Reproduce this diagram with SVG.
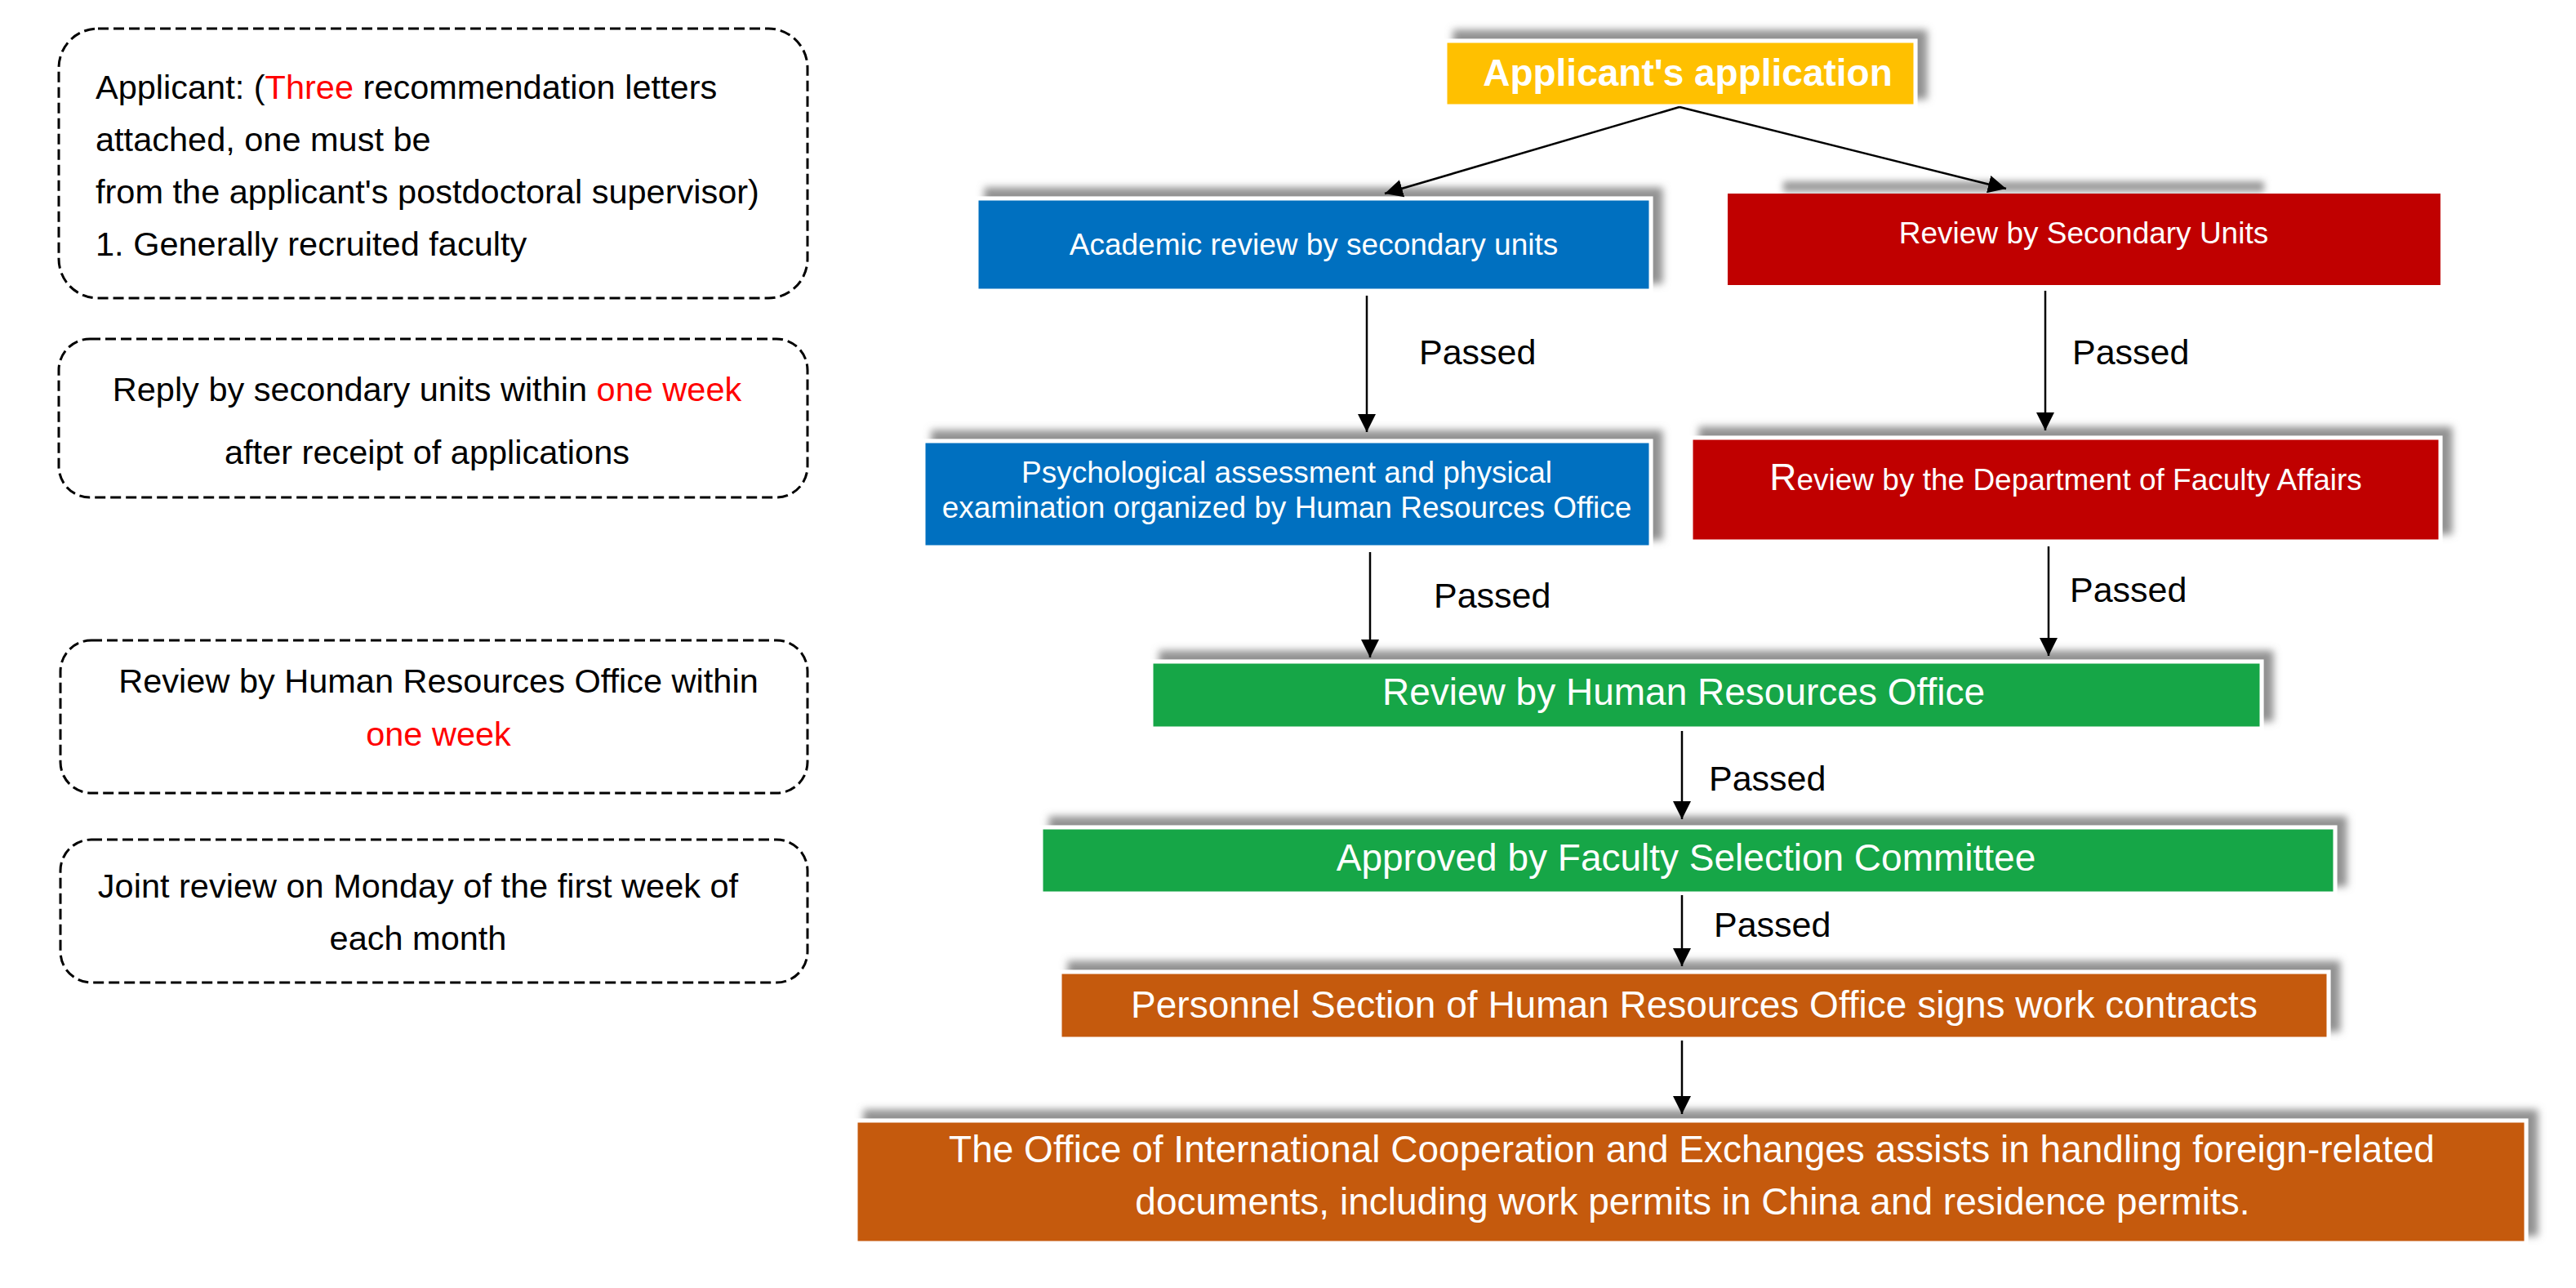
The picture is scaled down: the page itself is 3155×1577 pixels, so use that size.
<svg xmlns="http://www.w3.org/2000/svg" width="3155" height="1577" viewBox="0 0 3155 1577">
<defs>
<filter id="sh" x="-5%" y="-40%" width="115%" height="170%">
<feGaussianBlur in="SourceAlpha" stdDeviation="5"/>
<feOffset dx="12" dy="-11" result="b"/>
<feFlood flood-color="#8c8c8c" flood-opacity="0.95"/>
<feComposite in2="b" operator="in"/>
<feMerge><feMergeNode/><feMergeNode in="SourceGraphic"/></feMerge>
</filter>
<filter id="blur" x="-5%" y="-100%" width="110%" height="300%">
<feGaussianBlur stdDeviation="4"/>
</filter>
<marker id="ah" viewBox="0 0 22 22" refX="22" refY="11" markerWidth="22" markerHeight="22" markerUnits="userSpaceOnUse" orient="auto">
<path d="M0,0 L22,11 L0,22 Z" fill="#000"/>
</marker>
</defs>
<style>
text{font-family:"Liberation Sans",Arial,sans-serif;}
.note{fill:none;stroke:#000;stroke-width:3;stroke-dasharray:13 6;}
.nt{font-size:41.5px;fill:#000;}
.nt .red,.nt.red{fill:#ff0000;}
.box{stroke:#fff;stroke-width:5;filter:url(#sh);}
.wt{fill:#fff;text-anchor:middle;}
.s37{font-size:37px;}
.s46{font-size:46px;}
.conn line{stroke:#000;stroke-width:2.5;marker-end:url(#ah);}
.pl{font-size:43px;fill:#000;}
</style>
<rect width="3155" height="1577" fill="#fff"/>

<g id="note1">
<rect class="note" x="72" y="35" width="917" height="330" rx="48"/>
<text class="nt" x="117" y="121">Applicant: (<tspan class="red">Three</tspan> recommendation letters</text>
<text class="nt" x="117" y="185">attached, one must be</text>
<text class="nt" x="117" y="249">from the applicant's postdoctoral supervisor)</text>
<text class="nt" x="117" y="313">1. Generally recruited faculty</text>
</g>
<g id="note2">
<rect class="note" x="72" y="415" width="917" height="194" rx="38"/>
<text class="nt" x="523" y="491" text-anchor="middle">Reply by secondary units within <tspan class="red">one week</tspan></text>
<text class="nt" x="523" y="568" text-anchor="middle">after receipt of applications</text>
</g>
<g id="note3">
<rect class="note" x="74" y="784" width="915" height="187" rx="38"/>
<text class="nt" x="537" y="848" text-anchor="middle">Review by Human Resources Office within</text>
<text class="nt red" x="537" y="913" text-anchor="middle">one week</text>
</g>
<g id="note4">
<rect class="note" x="74" y="1028" width="915" height="175" rx="38"/>
<text class="nt" x="512" y="1099" text-anchor="middle">Joint review on Monday of the first week of</text>
<text class="nt" x="512" y="1163" text-anchor="middle">each month</text>
</g>

<g id="n-apply">
<rect class="box" x="1770" y="50" width="576" height="80" fill="#ffc000"/>
<text class="wt" x="2067" y="105" font-size="46" font-weight="bold">Applicant's application</text>
</g>
<g id="n-academic">
<rect class="box" x="1196" y="243" width="826" height="113" fill="#0070c0"/>
<text class="wt s37" x="1609" y="312">Academic review by secondary units</text>
</g>
<g id="n-secondary">
<rect x="2184" y="222" width="589" height="13" fill="#9a9a9a" filter="url(#blur)"/>
<rect x="2116" y="237" width="873" height="112" fill="#c00000"/>
<text class="wt s37" x="2552" y="298">Review by Secondary Units</text>
</g>
<g id="n-psych">
<rect class="box" x="1131" y="540" width="891" height="130" fill="#0070c0"/>
<text class="wt s37" x="1576" y="591">Psychological assessment and physical</text>
<text class="wt s37" x="1576" y="634">examination organized by Human Resources Office</text>
</g>
<g id="n-faculty">
<rect class="box" x="2071" y="536" width="918" height="127" fill="#c00000"/>
<text class="wt s37" x="2530" y="600"><tspan font-size="46">R</tspan>eview by the Department of Faculty Affairs</text>
</g>
<g id="n-hr">
<rect class="box" x="1410" y="810" width="1360" height="82" fill="#16a646"/>
<text class="wt s46" x="2062" y="863">Review by Human Resources Office</text>
</g>
<g id="n-committee">
<rect class="box" x="1275" y="1013" width="1585" height="81" fill="#16a646"/>
<text class="wt s46" x="2065" y="1066">Approved by Faculty Selection Committee</text>
</g>
<g id="n-contract">
<rect class="box" x="1298" y="1190" width="1554" height="82" fill="#c55a11"/>
<text class="wt s46" x="2075" y="1246">Personnel Section of Human Resources Office signs work contracts</text>
</g>
<g id="n-intl">
<rect class="box" x="1048" y="1372" width="2046" height="150" fill="#c55a11"/>
<text class="wt s46" x="2072" y="1423">The Office of International Cooperation and Exchanges assists in handling foreign-related</text>
<text class="wt s46" x="2073" y="1487">documents, including work permits in China and residence permits.</text>
</g>

<g id="connectors" class="conn">
<line x1="2057" y1="131" x2="1696" y2="237"/>
<line x1="2057" y1="131" x2="2457" y2="231"/>
<line x1="1674" y1="362" x2="1674" y2="529"/>
<line x1="2505" y1="356" x2="2505" y2="527"/>
<line x1="1678" y1="676" x2="1678" y2="805"/>
<line x1="2509" y1="669" x2="2509" y2="803"/>
<line x1="2060" y1="895" x2="2060" y2="1003"/>
<line x1="2060" y1="1096" x2="2060" y2="1183"/>
<line x1="2060" y1="1274" x2="2060" y2="1364"/>
</g>
<g id="labels">
<text class="pl" x="1738" y="446">Passed</text>
<text class="pl" x="2538" y="446">Passed</text>
<text class="pl" x="1756" y="744">Passed</text>
<text class="pl" x="2535" y="737">Passed</text>
<text class="pl" x="2093" y="968">Passed</text>
<text class="pl" x="2099" y="1147">Passed</text>
</g>
</svg>
